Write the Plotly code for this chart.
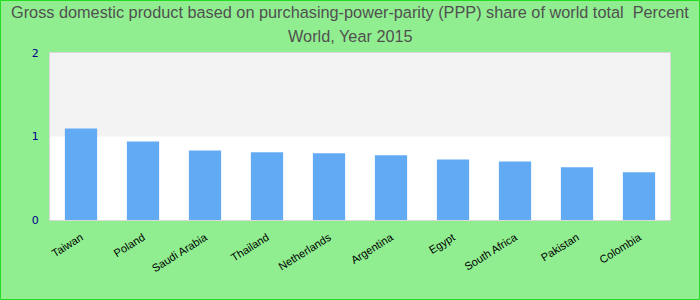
import plotly.graph_objects as go

countries = ["Taiwan", "Poland", "Saudi Arabia", "Thailand", "Netherlands",
             "Argentina", "Egypt", "South Africa", "Pakistan", "Colombia"]
values = [1.095, 0.94, 0.833, 0.81, 0.80, 0.774, 0.726, 0.702, 0.631, 0.571]
y_ticks = [0, 1, 2]
title_lines = ["Gross domestic product based on purchasing-power-parity (PPP) share of world total  Percent",
               "World, Year 2015"]

W, H = 700, 300
ml, mr, mt, mb = 50, 30, 53, 80
pw, ph = W - ml - mr, H - mt - mb

fig = go.Figure(go.Bar(x=countries, y=values, marker_color="#63aaf5",
                       marker_line_width=0))

title_font = dict(family="Liberation Sans, Arial", size=16.3, color="#505050")
annotations = []
for line, ypix in zip(title_lines, [12, 36]):
    annotations.append(dict(
        text=line, xref="paper", yref="paper",
        x=(W / 2 - ml) / pw, y=1 + (mt - ypix) / ph,
        xanchor="center", yanchor="middle", showarrow=False, font=title_font))

fig.update_layout(
    width=W, height=H,
    margin=dict(l=ml, r=mr, t=mt, b=mb, pad=0),
    paper_bgcolor="#90ee90",
    plot_bgcolor="white",
    bargap=0.48,
    showlegend=False,
    annotations=annotations,
    xaxis=dict(
        tickangle=-32, tickfont=dict(family="Liberation Sans, Arial", size=11, color="black"),
        showline=True, linecolor="#d8d8d8", linewidth=1, mirror=True,
        ticks="", showgrid=False, ticklabelstandoff=6,
    ),
    yaxis=dict(
        range=[0, 2], tickvals=y_ticks, ticktext=[str(v) for v in y_ticks],
        tickfont=dict(family="DejaVu Sans", size=11, color="#00008b"),
        showline=True, linecolor="#d8d8d8", linewidth=1, mirror=True,
        showgrid=False, zeroline=False, ticks="outside", ticklen=8,
        tickcolor="rgba(0,0,0,0)",
    ),
    shapes=[
        dict(type="rect", xref="paper", yref="y", x0=0, x1=1, y0=1, y1=2,
             fillcolor="#f3f3f3", line_width=0, layer="below"),
        dict(type="rect", xref="paper", yref="paper",
             x0=(-ml + 0.5) / pw, x1=1 + (mr - 0.5) / pw,
             y0=(-mb + 0.5) / ph, y1=1 + (mt - 0.5) / ph,
             line=dict(color="#22dd22", width=1), fillcolor="rgba(0,0,0,0)",
             layer="above"),
    ],
)

fig.write_html("out.html")
